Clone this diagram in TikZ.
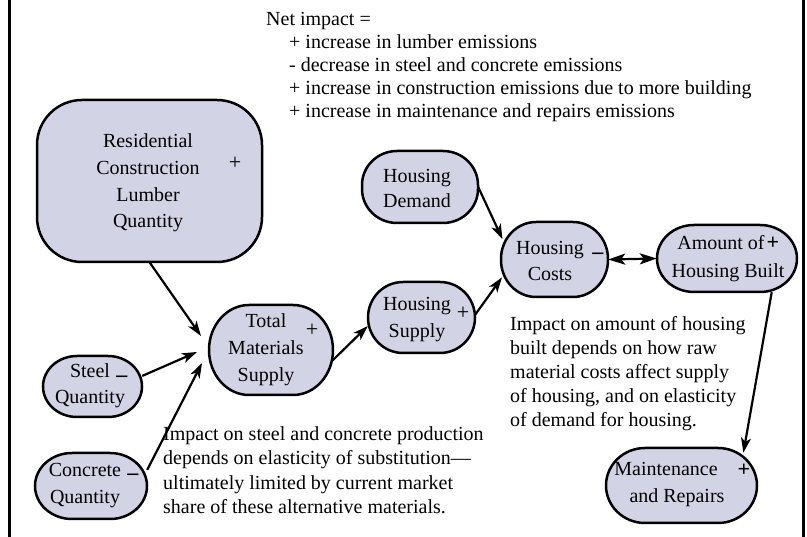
\documentclass[tikz,border=0pt]{standalone}
\usepackage{fontspec}
\setmainfont{Liberation Serif}
\usetikzlibrary{arrows.meta,calc}
\definecolor{nodefill}{RGB}{211,211,230}
% #1 name, #2 cx, #3 cy, #4 w, #5 h, #6 corner x radius, #7 corner y radius
\newcommand\ovbox[7]{%
  \draw[boxline] (#2-#4/2+#6, #3-#5/2) -- (#2+#4/2-#6, #3-#5/2)
    arc[start angle=-90, end angle=0, x radius=#6, y radius=#7]
    -- (#2+#4/2, #3+#5/2-#7)
    arc[start angle=0, end angle=90, x radius=#6, y radius=#7]
    -- (#2-#4/2+#6, #3+#5/2)
    arc[start angle=90, end angle=180, x radius=#6, y radius=#7]
    -- (#2-#4/2, #3-#5/2+#7)
    arc[start angle=180, end angle=270, x radius=#6, y radius=#7] -- cycle;
  \node[inner sep=0pt, minimum width=#4pt, minimum height=#5pt] (#1) at (#2,#3) {};}
\begin{document}
\begin{tikzpicture}[x=1pt,y=-1pt,
  boxline/.style={draw=black, line width=2.5pt, fill=nodefill},
  lbl/.style={inner sep=0pt, align=center},
  sgn/.style={inner sep=0pt, font=\fontsize{22}{24}\selectfont},
  note/.style={inner sep=0pt, align=left, anchor=north west},
  link/.style={line width=2.2pt, -{Stealth[length=15pt,width=10pt,inset=4pt]}},
  dlink/.style={line width=2.2pt, {Stealth[length=17pt,width=11pt,inset=4pt]}-{Stealth[length=17pt,width=11pt,inset=4pt]}},
  frame/.style={line width=2.5pt}
]
\useasboundingbox (0,0) rectangle (807,537);
\draw[frame] (9.5,0) -- (9.5,537);
\draw[frame] (803.5,0) -- (803.5,537);

% shapes
\ovbox{res}{149.5}{181}{225}{162}{45}{45}
\ovbox{tms}{271}{350}{124}{90}{40}{45}
\ovbox{steel}{92.5}{386.5}{99}{61}{34}{30.5}
\ovbox{concrete}{91}{486}{112}{66}{37}{33}
\ovbox{hs}{421.5}{317.5}{107}{71}{35}{35.5}
\ovbox{hd}{420}{187}{116}{72}{35}{34}
\ovbox{hc}{554.5}{259.5}{107}{75}{35}{37}
\ovbox{ahb}{727}{258.5}{140}{67}{37}{33.5}
\ovbox{mr}{681.5}{485.5}{151}{75}{39}{37.5}

% labels
\node[lbl, font=\fontsize{20}{26.7}\selectfont] (resl) at (148,183) {Residential\\Construction\\Lumber\\Quantity};
\node[sgn] (ress) at (235,163) {+};
\node[lbl, font=\fontsize{20}{27}\selectfont] (tmsl) at (266,350) {Total\\Materials\\Supply};
\node[sgn] (tmss) at (312,330) {+};
\node[lbl, font=\fontsize{20}{26}\selectfont] (steell) at (90,386) {Steel\\Quantity};
\node[sgn, anchor=base] (steels) at (122,375) {\textbf{\_}};
\node[lbl, font=\fontsize{20}{27}\selectfont] (concretel) at (85,485.5) {Concrete\\Quantity};
\node[sgn, anchor=base] (concretes) at (133,473) {\textbf{\_}};
\node[lbl, font=\fontsize{20}{25}\selectfont] (hdl) at (417,188.5) {Housing\\Demand};
\node[lbl, font=\fontsize{20}{27}\selectfont] (hsl) at (417,319.5) {Housing\\Supply};
\node[sgn] (hss) at (463,313) {+};
\node[lbl, font=\fontsize{20}{26}\selectfont] (hcl) at (550,261) {Housing\\Costs};
\node[sgn, anchor=base] (hcs) at (598,252) {\textbf{\_}};
\node[lbl, font=\fontsize{20}{28}\selectfont] (ahbl) at (728,258.5) {Amount of\hspace*{14pt}\\Housing Built};
\node[sgn] (ahbs) at (773,243) {\textbf{+}};
\node[lbl, font=\fontsize{20}{27}\selectfont] (mrl) at (677,484.5) {Maintenance\hspace*{22pt}\\and Repairs};
\node[sgn] (mrs) at (744,470) {\textbf{+}};

% notes
\node[note, font=\fontsize{20}{23}\selectfont] (netimpact) at (266,12.3) {Net impact =\\
\hspace*{23pt}+ increase in lumber emissions\\
\hspace*{23pt}- decrease in steel and concrete emissions\\
\hspace*{23pt}+ increase in construction emissions due to more building\\
\hspace*{23pt}+ increase in maintenance and repairs emissions};
\node[note, font=\fontsize{20}{24.5}\selectfont] (steelnote) at (163,426) {Impact on steel and concrete production\\
depends on elasticity of substitution—\\
ultimately limited by current market\\
share of these alternative materials.};
\node[note, font=\fontsize{20}{24}\selectfont] (housingnote) at (510,316.5) {Impact on amount of housing\\
built depends on how raw\\
material costs affect supply\\
of housing, and on elasticity\\
of demand for housing.};

% connectors
\coordinate (c1) at (201,336);
\coordinate (c2) at (197,352);
\coordinate (c3) at (202,363);
\draw[link] (res.south) -- (c1);
\draw[link] (steel.12) -- (c2);
\draw[link] (concrete.16) -- (c3);
\draw[link, shorten <=-1pt] (tms.-9) -- (hs.189);
\draw[link, shorten >=-2pt] (hs.3) -- (hc.200);
\draw[link, shorten >=-4pt] (hd.east) -- (hc.156);
\draw[dlink] (hc.east) -- (ahb.west);
\draw[link, shorten >=-5pt] (ahb.-37) -- (mr.31.5);
\end{tikzpicture}
\end{document}
